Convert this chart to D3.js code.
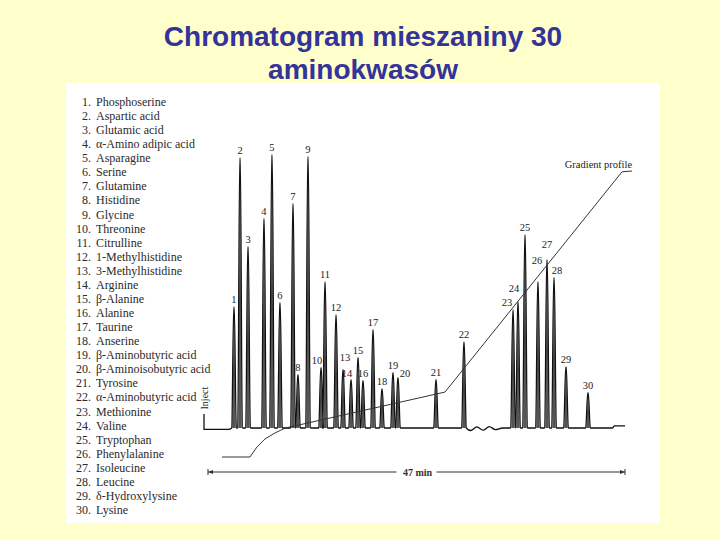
<!DOCTYPE html>
<html>
<head>
<meta charset="utf-8">
<script src="https://cdn.jsdelivr.net/npm/d3@7"></script>
<style>
  html, body { margin: 0; padding: 0; background: #FFFFCC; }
  svg { display: block; }
</style>
</head>
<body>
<svg id="chart" width="720" height="540"></svg>
<script>
// ---------------- DATA ----------------
const titleLines = ["Chromatogram mieszaniny 30", "aminokwasów"];

const peakNumbers = [1,2,3,4,5,6,7,8,9,10,11,12,13,14,15,16,17,18,19,20,21,22,23,24,25,26,27,28,29,30];

const compoundNames = [
  "Phosphoserine", "Aspartic acid", "Glutamic acid", "α-Amino adipic acid",
  "Asparagine", "Serine", "Glutamine", "Histidine", "Glycine", "Threonine",
  "Citrulline", "1-Methylhistidine", "3-Methylhistidine", "Arginine",
  "β-Alanine", "Alanine", "Taurine", "Anserine", "β-Aminobutyric acid",
  "β-Aminoisobutyric acid", "Tyrosine", "α-Aminobutyric acid", "Methionine",
  "Valine", "Tryptophan", "Phenylalanine", "Isoleucine", "Leucine",
  "δ-Hydroxylysine", "Lysine"
];

// retention time (min)
const retentionTimes = [
  2.93, 3.61, 4.51, 6.31, 7.21, 8.11, 9.58, 10.14, 11.27, 12.74,
  13.19, 14.43, 15.22, 16.12, 16.91, 17.47, 18.60, 19.61, 20.85, 21.41,
  25.70, 28.85, 34.38, 34.94, 35.73, 37.19, 38.21, 39.00, 40.35, 42.83
];

// peak height (relative response)
const peakHeights = [
  43.5, 97.1, 65.1, 75.2, 98.2, 45.0, 80.6, 19.1, 97.5, 21.6,
  52.5, 40.6, 20.9, 17.3, 25.2, 16.9, 35.3, 14.0, 19.8, 18.0,
  17.3, 30.9, 42.4, 45.3, 69.4, 52.5, 60.4, 54.0, 21.9, 12.6
];

// small baseline disturbances between peaks 22 and 23
const baselineWiggleTimes  = [29.6, 30.3, 31.0, 31.7, 32.4, 33.2];
const baselineWiggleLevels = [-0.9, 0.4, -0.8, 0.5, -0.6, 0.0];

// gradient profile (time in min, % of gradient)
const gradientTimes   = [1.58, 4.73, 5.52, 6.42, 7.55, 8.68, 26.71, 46.66, 47.8];
const gradientPercent = [0.0, 0.0, 3.5, 6.3, 8.4, 10.1, 22.7, 99.7, 100];

const runMinutes = 47;
const runLabel = "47 min";
const injectLabel = "Inject";
const gradientLabel = "Gradient profile";

// ---------------- LAYOUT ----------------
const svg = d3.select("#chart");
svg.append("rect").attr("width", 720).attr("height", 540).attr("fill", "#FFFFCC");
svg.append("rect").attr("x", 66).attr("y", 83).attr("width", 594).attr("height", 440).attr("fill", "#FFFFFF");

// Title
svg.selectAll("text.title").data(titleLines).join("text")
  .attr("class", "title")
  .attr("x", 363)
  .attr("y", (d, i) => 46 + i * 33)
  .attr("text-anchor", "middle")
  .attr("font-family", "'Liberation Sans', Arial, sans-serif")
  .attr("font-weight", "bold")
  .attr("font-size", 28)
  .attr("fill", "#333399")
  .text(d => d);

const serif = "'Liberation Serif', 'Times New Roman', serif";

// Legend list
const legendY = d3.scaleLinear().domain([0, 29]).range([106, 514]);
const legend = svg.append("g").attr("font-family", serif).attr("font-size", 12).attr("fill", "#2a2a2a");
legend.selectAll("text.num").data(peakNumbers).join("text")
  .attr("class", "num")
  .attr("x", 91).attr("y", (d, i) => legendY(i))
  .attr("text-anchor", "end")
  .text(d => d + ".");
legend.selectAll("text.name").data(compoundNames).join("text")
  .attr("class", "name")
  .attr("x", 96).attr("y", (d, i) => legendY(i))
  .text(d => d);

// Scales
const x = d3.scaleLinear().domain([0, runMinutes]).range([208, 625]);
const y = d3.scaleLinear().domain([0, 100]).range([428, 150]);
const gy = d3.scaleLinear().domain([0, 100]).range([457, 171]);

// Build chromatogram trace
const halfWidth = 0.26;   // min, half base width of a peak
const apexHalf = 0.03;
const peaks = peakNumbers.map((n, i) => ({ n, t: retentionTimes[i], h: peakHeights[i] }));
const trace = [];
trace.push([-0.45, 5]);
trace.push([-0.45, -0.5]);
trace.push([2.3, -0.5]);
const events = [];
peaks.forEach(p => events.push({ t: p.t, pts: [[p.t - halfWidth, 0], [p.t - apexHalf, p.h], [p.t + apexHalf, p.h], [p.t + halfWidth, 0]] }));
baselineWiggleTimes.forEach((t, i) => events.push({ t, pts: [[t, baselineWiggleLevels[i]]] }));
events.sort((a, b) => a.t - b.t);
events.forEach(e => e.pts.forEach(p => trace.push(p)));
trace.push([45.6, 0]);
trace.push([45.8, 0.8]);
trace.push([47.0, 0.8]);

// peak fills
const peakArea = d3.line().x(d => x(d[0])).y(d => y(d[1]));
svg.append("g").selectAll("path").data(peaks).join("path")
  .attr("d", p => peakArea([[p.t - halfWidth * 0.8, 0], [p.t, p.h], [p.t + halfWidth * 0.8, 0]]) + "Z")
  .attr("fill", "#555");

svg.append("path")
  .attr("d", d3.line().x(d => x(d[0])).y(d => y(d[1])).curve(d3.curveMonotoneX)(trace))
  .attr("fill", "none")
  .attr("stroke", "#111")
  .attr("stroke-width", 1.3)
  .attr("stroke-linejoin", "round");

// Peak number labels (nudges to avoid overlaps, as in the original)
const labelNudge = { 10: [-4, 0], 13: [2, -5], 14: [-4, 1], 20: [7, 3], 23: [-6, 0], 24: [-4, -6], 26: [-1, -14], 27: [0, -8], 28: [3, 0] };
svg.append("g").attr("font-family", serif).attr("font-size", 10.5).attr("fill", "#222")
  .selectAll("text").data(peaks).join("text")
  .attr("x", p => x(p.t) + (labelNudge[p.n] ? labelNudge[p.n][0] : 0))
  .attr("y", p => y(p.h) - 4 + (labelNudge[p.n] ? labelNudge[p.n][1] : 0))
  .attr("text-anchor", "middle")
  .text(p => p.n);

// Gradient profile
const gradPts = gradientTimes.map((t, i) => [t, gradientPercent[i]]);
svg.append("path")
  .attr("d", d3.line().x(d => x(d[0])).y(d => gy(d[1])).curve(d3.curveLinear)(gradPts))
  .attr("fill", "none").attr("stroke", "#333").attr("stroke-width", 1);
svg.append("text")
  .attr("x", x(gradientTimes[gradientTimes.length - 1]))
  .attr("y", gy(100) - 3)
  .attr("text-anchor", "end")
  .attr("font-family", serif).attr("font-size", 10.5).attr("fill", "#222")
  .text(gradientLabel);

// Inject label
svg.append("text")
  .attr("transform", `translate(${x(-0.45) + 4},${y(5) - 16}) rotate(-90)`)
  .attr("text-anchor", "middle")
  .attr("font-family", serif).attr("font-size", 10).attr("fill", "#222")
  .text(injectLabel);

// 47 min run-length bar
const barY = 472;
const bar = svg.append("g");
bar.append("line").attr("x1", x(0)).attr("x2", x(runMinutes)).attr("y1", barY).attr("y2", barY)
  .attr("stroke", "#333").attr("stroke-width", 1.2);
[0, runMinutes].forEach(t => bar.append("line").attr("x1", x(t)).attr("x2", x(t)).attr("y1", barY - 3).attr("y2", barY + 3).attr("stroke", "#333"));
bar.append("path").attr("d", `M${x(0)},${barY}l5,-2v4z`).attr("fill", "#333");
bar.append("path").attr("d", `M${x(runMinutes)},${barY}l-5,-2v4z`).attr("fill", "#333");
bar.append("rect").attr("x", x(runMinutes / 2) - 20).attr("y", barY - 6).attr("width", 40).attr("height", 12).attr("fill", "#fff");
bar.append("text").attr("x", x(runMinutes / 2) + 1).attr("y", barY + 3.5)
  .attr("text-anchor", "middle").attr("font-family", serif).attr("font-size", 10).attr("font-weight", "bold").attr("fill", "#333")
  .text(runLabel);
</script>
</body>
</html>
